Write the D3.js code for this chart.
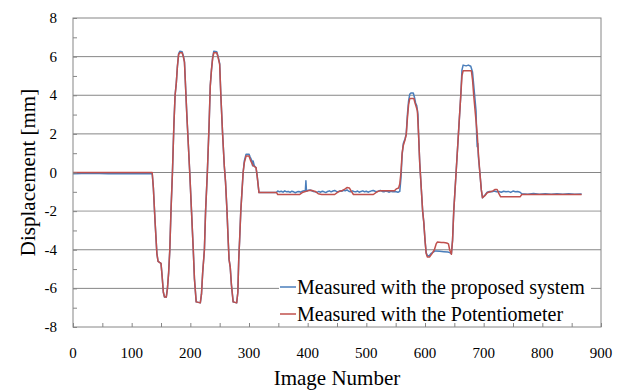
<!DOCTYPE html>
<html>
<head>
<meta charset="utf-8">
<script src="https://cdn.jsdelivr.net/npm/d3@7/dist/d3.min.js"></script>
</head>
<body style="margin:0">
<div id="chart"></div>
<script>
// tick values
const xTicks = [0, 100, 200, 300, 400, 500, 600, 700, 800, 900];
const yTicks = [-8, -6, -4, -2, 0, 2, 4, 6, 8];
const seriesNames = ["Measured with the proposed system", "Measured with the Potentiometer"];

// [image number, displacement mm]
const proposed = [
  [0,-0.06],[30,-0.04],[60,-0.07],[90,-0.05],[120,-0.06],[135,-0.05],
  [137,-0.8],[140,-2.6],[143,-4.2],[145,-4.6],[150,-4.7],[152,-5.4],[154,-6.2],[156,-6.45],[159,-6.45],
  [161,-6.0],[163,-5.2],[165,-4.0],[167,-2.0],[169.5,0],[172,2.5],[174,4.0],[176,4.6],[178,5.5],[180,6.15],
  [182,6.28],[186,6.25],[188,6.05],[190,5.75],[194,3.0],[199,0],[202,-2],[205,-4],[207,-5.5],[210,-6.7],
  [217,-6.75],[219,-6.3],[221,-5.2],[224,-4],[226,-2],[229,0],[232,2.5],[234,4.5],[236,5.3],[238,5.95],
  [240,6.28],[245,6.25],[247,6.05],[250,5.65],[252,4.0],[255,2.0],[258,0.3],[260,-0.5],[262.5,-2],
  [264.5,-3.5],[266,-4.5],[268,-4.9],[270,-5.8],[273,-6.7],[279,-6.75],[281,-6.2],[282.5,-4.5],[284,-3.5],
  [286,-2],[290,0],[292,0.6],[295,0.95],[300,0.95],[302,0.8],[305,0.6],[306,0.35],[307,0.6],[309,0.35],
  [312,0.25],[314,-0.2],[317,-1.04],[345,-1.04],
  [347,-1.02],[349,-0.96],[352,-1.0],[355,-0.97],[358,-1.02],[361,-0.95],[364,-1.0],[367,-0.98],[370,-1.03],
  [373,-0.97],[376,-1.0],[379,-1.05],[382,-1.0],[385,-0.98],[388,-1.02],[391,-0.97],[394,-0.95],[396,-0.97],
  [397,-0.43],[398,-0.97],[401,-0.92],[404,-0.9],[407,-0.95],[410,-0.98],[413,-1.0],[416,-1.03],[419,-0.98],
  [422,-1.02],[425,-0.97],[428,-1.0],[431,-1.04],[434,-0.98],[437,-0.95],[440,-1.0],[443,-0.96],[446,-0.93],
  [449,-0.98],[452,-1.0],[455,-0.95],[458,-0.97],[461,-0.92],[464,-0.95],[467,-0.9],[470,-0.97],[473,-1.0],
  [476,-0.95],[479,-0.98],[482,-1.0],[485,-0.96],[488,-1.02],[491,-0.98],[494,-0.95],[497,-1.0],[500,-0.97],
  [503,-1.02],[506,-0.98],[509,-0.95],[512,-0.93],[515,-0.97],[518,-1.0],[521,-0.96],[524,-0.93],[527,-0.98],
  [530,-1.0],[533,-0.96],[536,-0.98],[539,-1.02],[542,-0.97],[545,-1.0],[548,-0.98],[551,-1.0],[554,-1.02],
  [557,-0.98],[559,-0.3],[561,0.9],[563,1.5],[566,1.75],[568,2.0],[570,3.0],[572,3.7],[574,4.05],[576,4.12],
  [580,4.12],[582,3.9],[584,3.6],[586,3.45],[588,3.0],[589,2.0],[591,0.5],[593,-0.5],[596,-2.0],[598,-2.6],
  [600,-3.5],[602,-4.15],[604,-4.3],[607,-4.32],[610,-4.2],[614,-4.12],[618,-4.06],[625,-4.08],[632,-4.1],
  [639,-4.12],[642,-4.15],[645,-4.2],[647,-3.5],[649,-2.0],[653,0],[657,2],[661,4],[663,5.3],[665,5.56],
  [670,5.52],[674,5.56],[678,5.5],[681,5.2],[684,4.2],[687,3.2],[688,2.0],[689,1.33],[690,1.5],[691,0.8],
  [693.5,0],[696,-0.9],[698,-1.31],[702,-1.18],[706,-1.02],[710,-0.98],[714,-1.0],[718,-0.96],[722,-1.0],
  [726,-0.98],[730,-1.02],[734,-0.97],[738,-1.0],[742,-0.98],[746,-1.03],[750,-0.96],[754,-1.0],[758,-0.98],
  [762,-1.02],[765,-1.1],[775,-1.12],[785,-1.09],[795,-1.12],[805,-1.1],[815,-1.12],[825,-1.1],[835,-1.13],
  [845,-1.1],[855,-1.12],[867,-1.11]
];

const potentiometer = [
  [0,0],[135,0],
  [137,-0.8],[140,-2.6],[143,-4.2],[145,-4.6],[150,-4.7],[152,-5.4],[154,-6.2],[156,-6.45],[159,-6.45],
  [161,-6.0],[163,-5.2],[165,-4.0],[167,-2.0],[169.5,0],[172,2.5],[174,4.0],[176,4.6],[178,5.5],[180,6.1],
  [182,6.2],[186,6.2],[188,6.0],[190,5.7],[194,3.0],[199,0],[202,-2],[205,-4],[207,-5.5],[210,-6.7],
  [217,-6.75],[219,-6.3],[221,-5.2],[224,-4],[226,-2],[229,0],[232,2.5],[234,4.5],[236,5.3],[238,5.9],
  [240,6.2],[245,6.2],[247,6.0],[250,5.6],[252,4.0],[255,2.0],[258,0.3],[260,-0.5],[262.5,-2],
  [264.5,-3.5],[266,-4.5],[268,-4.9],[270,-5.8],[273,-6.7],[279,-6.75],[281,-6.2],[282.5,-4.5],[284,-3.5],
  [286,-2],[290,0],[292,0.5],[295,0.85],[300,0.85],[303,0.6],[307,0.35],[312,0.25],[314,-0.2],[317,-1.04],
  [347,-1.04],[349,-1.14],[386,-1.14],[392,-1.02],[400,-0.95],[406,-0.92],[413,-0.98],[418,-1.1],[424,-1.14],
  [446,-1.14],[452,-1.0],[458,-0.95],[464,-0.85],[467,-0.78],[471,-0.8],[474,-0.95],[478,-1.14],[512,-1.14],
  [518,-1.0],[523,-0.95],[548,-0.95],[551,-0.85],[555,-0.8],[557,-0.6],[559,0.0],[561,1.0],[563,1.4],
  [566,1.7],[568,1.95],[570,2.8],[572,3.5],[574,3.83],[581,3.83],[583,3.6],[585,3.4],[587,3.2],[589,2.0],
  [591,0.5],[593,-0.5],[596,-2.0],[598,-2.6],[600,-3.5],[602,-4.2],[604,-4.37],[608,-4.37],[612,-4.2],
  [616,-4.0],[619,-3.7],[621,-3.6],[628,-3.62],[632,-3.62],[637,-3.65],[640,-3.7],[642,-4.0],[645,-4.23],
  [647,-3.5],[649,-2.0],[653,0],[657,2],[661,4],[663,5.0],[665,5.27],[679,5.27],[681,4.8],[683,4.0],
  [686,3.0],[689,2.0],[691,1.0],[693.5,0],[696,-0.9],[698,-1.31],[702,-1.2],[706,-1.05],[711,-1.0],
  [716,-0.95],[719,-0.88],[723,-0.88],[726,-1.1],[729,-1.26],[762,-1.26],[765,-1.14],[867,-1.14]
];

const colors = ["#4a7ebb", "#c0504d"];
const fontFamily = "Times New Roman";

const W = 625, H = 390;
const margin = {top: 18, right: 24, bottom: 63, left: 73};
const width = W - margin.left - margin.right,
      height = H - margin.top - margin.bottom;

const svg = d3.select("#chart").append("svg")
    .attr("width", W)
    .attr("height", H);

// draw text in the same way everywhere
function label(sel, size) {
    return sel.append("text")
        .attr("font-size", size)
        .style("font-family", fontFamily);
}

const g = svg.append("g")
    .attr("transform", "translate(" + margin.left + "," + margin.top + ")");

const x = d3.scaleLinear().domain([0, 900]).range([0, width]);
const y = d3.scaleLinear().domain([-8, 8]).range([height, 0]);

// horizontal grid lines
g.selectAll(".grid")
    .data(yTicks.filter(d => d > -8 && d < 8))
    .enter()
    .append("line")
    .attr("x1", 0)
    .attr("x2", width)
    .attr("y1", d => y(d))
    .attr("y2", d => y(d))
    .attr("stroke", d => d === -2 ? "#c4c4c4" : "#868686")
    .attr("stroke-width", d => d === -2 ? 1.6 : 1);

// series lines
const line = d3.line()
    .x(d => x(d[0]))
    .y(d => y(d[1]));

[proposed, potentiometer].forEach((data, i) => {
    g.append("path")
        .datum(data)
        .attr("fill", "none")
        .attr("stroke", colors[i])
        .attr("stroke-width", 1.5)
        .attr("stroke-linejoin", "round")
        .attr("d", line);
});

// legend, white box over the grid
const legend = g.append("g");
legend.append("rect")
    .attr("x", 206)
    .attr("y", 256)
    .attr("width", 312)
    .attr("height", 51)
    .attr("fill", "#fff");

seriesNames.forEach((name, i) => {
    const ly = 269 + i * 27;
    legend.append("line")
        .attr("x1", 207).attr("x2", 223)
        .attr("y1", ly).attr("y2", ly)
        .attr("stroke", colors[i])
        .attr("stroke-width", 1.5);
    label(legend, 20)
        .attr("x", 224)
        .attr("y", ly + 6.5)
        .text(name);
});

// frame
g.append("rect")
    .attr("x", 0).attr("y", 0)
    .attr("width", width).attr("height", height)
    .attr("fill", "none")
    .attr("stroke", "#868686");

// axes with inner ticks
const xAxis = g.append("g")
    .attr("transform", "translate(0," + height + ")")
    .call(d3.axisBottom(x).tickValues(d3.range(0, 901, 50)).tickSize(-4).tickFormat(""));
xAxis.select(".domain").remove();
xAxis.selectAll("line").attr("stroke", "#868686");

const yAxis = g.append("g")
    .call(d3.axisLeft(y).tickValues(d3.range(-8, 9, 1)).tickSize(-4).tickFormat(""));
yAxis.select(".domain").remove();
yAxis.selectAll("line").attr("stroke", "#868686");

// tick labels
xTicks.forEach(d => {
    label(g, 15)
        .attr("x", x(d))
        .attr("y", height + 31)
        .attr("text-anchor", "middle")
        .text(d);
});

yTicks.forEach(d => {
    label(g, 15)
        .attr("x", -16)
        .attr("y", y(d) + 5)
        .attr("text-anchor", "end")
        .text(d < 0 ? "-" + Math.abs(d) : d);
});

// axis titles
label(svg, 21)
    .attr("x", margin.left + width / 2)
    .attr("y", 385)
    .attr("text-anchor", "middle")
    .text("Image Number");

label(svg, 21)
    .attr("transform", "translate(35," + (margin.top + y(0)) + ") rotate(-90)")
    .attr("text-anchor", "middle")
    .text("Displacement [mm]");
</script>
</body>
</html>
